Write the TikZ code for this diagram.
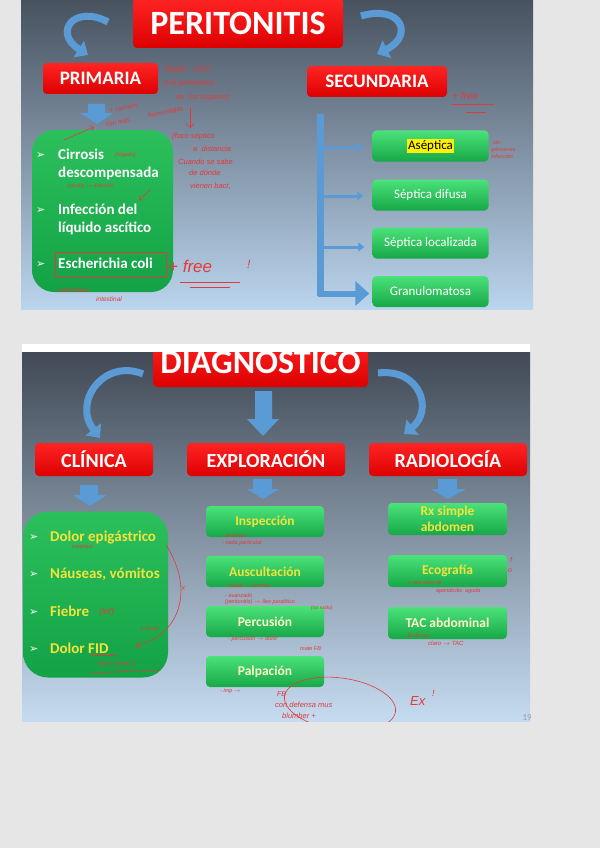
\documentclass[tikz,border=0pt]{standalone}
\usepackage{fontspec}
\setmainfont{Carlito}
\newfontfamily\dejavu{DejaVu Sans}
\newfontfamily\hand{Liberation Sans}
\usetikzlibrary{arrows.meta,shapes.geometric}
\definecolor{pagebg}{HTML}{E6E6E6}
\definecolor{sltop}{HTML}{48525F}
\definecolor{slmid}{HTML}{8A9DB3}
\definecolor{slbot}{HTML}{BBD5EE}
\definecolor{redtop}{HTML}{FF2424}
\definecolor{redbot}{HTML}{DD0000}
\definecolor{grtop}{HTML}{4BE27A}
\definecolor{grbot}{HTML}{17A847}
\definecolor{bigtop}{HTML}{2CC05C}
\definecolor{bigbot}{HTML}{13A246}
\definecolor{arrowblue}{HTML}{5B9BD5}
\definecolor{txtyel}{HTML}{F2E33C}
\definecolor{paleyel}{HTML}{FFF7C8}
\definecolor{ink}{HTML}{E23A3A}
\tikzset{
  redbox/.style={rounded corners=4pt, top color=redtop, bottom color=redbot, text=white, inner sep=0pt,
    font=\bfseries\fontsize{19}{19}\selectfont},
  bigtitle/.style={redbox, font=\bfseries\fontsize{34}{34}\selectfont},
  greenbox/.style={rounded corners=4pt, top color=grtop, bottom color=grbot, inner sep=0pt,
    minimum width=116pt, minimum height=31pt},
  sbox/.style={greenbox, text=white, font=\fontsize{13}{13}\selectfont},
  ybox/.style={greenbox, text=txtyel, font=\bfseries\fontsize{13.5}{16}\selectfont, align=center},
  pbox/.style={ybox, text=paleyel},
  bigbox/.style={top color=bigtop, bottom color=bigbot, inner sep=0pt},
  item/.style={anchor=base west, inner sep=0pt, text=white, font=\bfseries\fontsize{15}{15}\selectfont},
  yitem/.style={item, text=txtyel},
  bul/.style={anchor=base west, inner sep=0pt, text=white, font=\dejavu\fontsize{11}{11}\selectfont},
  curvarrow/.style={draw=arrowblue, line width=7pt, -{Triangle[length=11pt,width=19pt]}},
  blockarrow/.style={fill=arrowblue, draw=none},
  note/.style={text=ink, anchor=base west, inner sep=0pt, font=\hand\itshape\fontsize{6.5}{7}\selectfont},
  inkline/.style={draw=ink, line width=0.6pt},
}
\begin{document}
\begin{tikzpicture}[x=1pt,y=-1pt]
\useasboundingbox (0,0) rectangle (600,848);
\fill[pagebg] (0,0) rectangle (600,848);

%================ SLIDE 1 =================
\begin{scope}
\clip (21,0) rectangle (533,309);
\shade[top color=sltop, middle color=slmid, bottom color=slbot] (21,0) rectangle (533,309);

\node[bigtitle, minimum width=210pt, minimum height=50pt] (perit) at (238,23) {PERITONITIS};
\node[redbox, minimum width=115pt, minimum height=31pt] (prim) at (100.5,78.5) {PRIMARIA};
\node[redbox, minimum width=140pt, minimum height=31pt] (secu) at (377,81.5) {SECUNDARIA};

\coordinate (c1a) at (108,22); \coordinate (c1b) at (88,55);
\draw[curvarrow] (c1a) .. controls (75,4) and (52,32) .. (c1b);
\coordinate (c2a) at (361,16); \coordinate (c2b) at (377,54);
\draw[curvarrow] (c2a) .. controls (402,4) and (414,36) .. (c2b);

% block arrow under PRIMARIA
\fill[blockarrow] (88,104) -- (105,104) -- (105,113) -- (113,113) -- (97,124) -- (80,113) -- (88,113) -- cycle;

% big green box
\node[bigbox, rounded corners=22pt, minimum width=141pt, minimum height=162pt] (pbig) at (102.5,211) {};
\node[bul] (b1) at (36,158) {➢};
\node[item] (t1) at (58,159) {Cirrosis};
\node[item] (t1b) at (58,177) {descompensada};
\node[bul] (b2) at (36,213) {➢};
\node[item] (t2) at (58,214) {Infección del};
\node[item] (t2b) at (58,232) {líquido ascítico};
\node[bul] (b3) at (36,267) {➢};
\node[item] (t3) at (58,268) {Escherichia coli};

% right column
\node[sbox] (asep) at (430.5,146) {};
\node[fill=yellow, text=black, inner sep=1.2pt, font=\fontsize{13}{13}\selectfont] (aseptxt) at (asep.center) {Aséptica};
\node[sbox] (difu) at (430.5,195) {Séptica difusa};
\node[sbox] (loca) at (430.5,243) {Séptica localizada};
\node[sbox] (gran) at (430.5,291.5) {Granulomatosa};

\coordinate (trtop) at (320.5,114);
\coordinate (trbot) at (320.5,296);
\draw[draw=arrowblue, line width=6.5pt] (trtop) -- (trbot);
\coordinate (tr1) at (320,147);
\coordinate (tr2) at (320,196);
\coordinate (tr3) at (320,247);
\coordinate (tr4) at (318,293.5);
\draw[draw=arrowblue, line width=3pt, -{Triangle[length=6pt,width=9pt]}] (tr1) -- ([xshift=-9pt]asep.west|-tr1);
\draw[draw=arrowblue, line width=3pt, -{Triangle[length=6pt,width=9pt]}] (tr2) -- ([xshift=-9pt]difu.west|-tr2);
\draw[draw=arrowblue, line width=3pt, -{Triangle[length=6pt,width=9pt]}] (tr3) -- ([xshift=-8pt]loca.west|-tr3);
\draw[draw=arrowblue, line width=6pt, -{Triangle[length=14pt,width=24pt]}] (tr4) -- ([xshift=-3pt]gran.west|-tr4);

% handwritten notes slide 1
\node[note, font=\hand\itshape\fontsize{8}{8}\selectfont] (n1) at (165,72) {llegan\quad bact};
\node[note, font=\hand\itshape\fontsize{7.5}{8}\selectfont] (n2) at (164,86) {(vía perforados};
\node[note, font=\hand\itshape\fontsize{7.5}{8}\selectfont] (n3) at (176,100) {de\ \ los órganos)};
\coordinate (na1) at (190,108); \coordinate (na2) at (190,128);
\draw[inkline, -{Straight Barb[length=4pt]}] (na1) -- (na2);
\node[note, rotate=12] (n4) at (110,113) {+ varones};
\node[note, rotate=12] (n5) at (106,127) {con más};
\node[note, rotate=12] (n5b) at (148,118) {hemorragias};
\coordinate (na3) at (64,140); \coordinate (na4) at (94,127);
\draw[inkline, -{Straight Barb[length=3pt]}] (na3) -- (na4);
\node[note, font=\hand\itshape\fontsize{7.5}{8}\selectfont] (n6) at (172,139) {(foco séptico};
\node[note, font=\hand\itshape\fontsize{7.5}{8}\selectfont] (n7) at (193,151) {a\ \ distancia};
\node[note, font=\hand\itshape\fontsize{7.5}{8}\selectfont] (n8) at (178,164) {Cuando se sabe};
\node[note, font=\hand\itshape\fontsize{7.5}{8}\selectfont] (n9) at (189,175) {de dónde};
\node[note, font=\hand\itshape\fontsize{7.5}{8}\selectfont] (n10) at (190,188) {vienen bact,};
\node[note, font=\hand\itshape\fontsize{5.5}{6}\selectfont] (n11) at (115,157) {(hígado)};
\node[note, font=\hand\itshape\fontsize{5}{6}\selectfont] (n12) at (67,187.5) {(ascitis) $\to$ infección};
\coordinate (na5) at (150,190); \coordinate (na6) at (139,200);
\draw[inkline, -{Straight Barb[length=3pt]}] (na5) -- (na6);
\node[draw=ink, line width=0.6pt, inner sep=0pt, minimum width=111pt, minimum height=25pt] (ecbox) at (110.5,264.5) {};
\node[note, font=\hand\itshape\fontsize{17}{17}\selectfont] (n13) at (168,272) {+ free};
\node[note, font=\hand\itshape\fontsize{12}{12}\selectfont] (n14) at (247,268) {!};
\coordinate (u1a) at (180,282); \coordinate (u1b) at (240,282);
\coordinate (u2a) at (190,287); \coordinate (u2b) at (230,287);
\draw[inkline] (u1a) -- (u1b);
\draw[inkline] (u2a) -- (u2b);
\node[note] (n15) at (58,292) {enterobact};
\node[note] (n16) at (96,301) {intestinal};
\node[note, font=\hand\itshape\fontsize{10}{10}\selectfont] (n17) at (452,100) {+ free};
\coordinate (u3a) at (452,104); \coordinate (u3b) at (494,104);
\coordinate (u4a) at (466,112); \coordinate (u4b) at (486,112);
\draw[inkline] (u3a) -- (u3b);
\draw[inkline] (u4a) -- (u4b);
\node[note, font=\hand\itshape\fontsize{5.5}{6}\selectfont] (n18) at (493,144) {sin};
\node[note, font=\hand\itshape\fontsize{5.5}{6}\selectfont] (n19) at (491,151) {gérmenes};
\node[note, font=\hand\itshape\fontsize{5.5}{6}\selectfont] (n20) at (491,158) {infección};
\end{scope}

%================ SLIDE 2 =================
\fill[white] (22,344) rectangle (530,352);
\begin{scope}
\clip (22,352) rectangle (530,721);
\shade[top color=sltop!90!black, middle color=slmid, bottom color=slbot!85!white] (22,352) rectangle (530,721);

\node[bigtitle, minimum width=215pt, minimum height=50pt] (diag) at (260.5,362) {DIAGNOSTICO};
\node[redbox, font=\bfseries\fontsize{20}{20}\selectfont, minimum width=118pt, minimum height=33pt] (clin) at (94,459.5) {CLÍNICA};
\node[redbox, font=\bfseries\fontsize{20}{20}\selectfont, minimum width=158pt, minimum height=33pt] (expl) at (266,459.5) {EXPLORACIÓN};
\node[redbox, font=\bfseries\fontsize{20}{20}\selectfont, minimum width=158pt, minimum height=33pt] (radi) at (448,459.5) {RADIOLOGÍA};

\coordinate (d1a) at (143,374); \coordinate (d1b) at (100,438);
\draw[curvarrow] (d1a) .. controls (104,358) and (72,402) .. (d1b);
\coordinate (d2a) at (378,373); \coordinate (d2b) at (404,434);
\draw[curvarrow] (d2a) .. controls (420,368) and (434,410) .. (d2b);

% block arrows
\fill[blockarrow] (255,391) -- (272,391) -- (272,419) -- (279,419) -- (263,436) -- (247,419) -- (255,419) -- cycle;
\fill[blockarrow] (80,485) -- (98,485) -- (98,495) -- (107,495) -- (90,506) -- (73,495) -- (80,495) -- cycle;
\fill[blockarrow] (253,479) -- (272,479) -- (272,489) -- (279,489) -- (263,499) -- (247,489) -- (253,489) -- cycle;
\fill[blockarrow] (438,479) -- (457,479) -- (457,489) -- (466,489) -- (448,499) -- (431,489) -- (438,489) -- cycle;

% clinical box
\node[bigbox, rounded corners=25pt, minimum width=145pt, minimum height=166pt] (cbig) at (95.5,594.5) {};
\node[bul] (c1) at (29,540) {➢};
\node[yitem] (ct1) at (50,541) {Dolor epigástrico};
\node[bul] (c2) at (29,577) {➢};
\node[yitem] (ct2) at (50,578) {Náuseas, vómitos};
\node[bul] (c3) at (29,615) {➢};
\node[yitem] (ct3) at (50,616) {Fiebre};
\node[bul] (c4) at (29,652) {➢};
\node[yitem] (ct4) at (50,653) {Dolor FID};

% exploration
\node[ybox, minimum width=118pt] (insp) at (265,521.5) {Inspección};
\node[ybox, minimum width=118pt] (ausc) at (265,571.5) {Auscultación};
\node[pbox, minimum width=118pt] (perc) at (265,621.5) {Percusión};
\node[pbox, minimum width=118pt] (palp) at (265,671.5) {Palpación};

% radiology
\node[ybox, minimum width=119pt, minimum height=32pt] (rx) at (447.5,519) {Rx simple\\abdomen};
\node[ybox, minimum width=119pt, minimum height=32pt] (eco) at (447.5,571) {Ecografía};
\node[pbox, minimum width=119pt, minimum height=32pt] (tac) at (447.5,623) {TAC abdominal};

\node[anchor=base east, inner sep=0pt, text=black!40, font=\fontsize{9}{9}\selectfont] (pg) at (532,720) {19};

% handwritten notes slide 2
\node[note, font=\hand\itshape\fontsize{5.5}{6}\selectfont] (m1) at (72,548) {continuo};
\node[note, font=\hand\itshape\fontsize{8.5}{9}\selectfont] (m2) at (99,614) {(inf)};
\coordinate (ma1) at (166,545); \coordinate (ma2) at (136,646);
\draw[inkline, -{Straight Barb[length=4pt]}] (ma1) .. controls (195,590) and (180,635) .. (ma2);
\node[note, font=\hand\itshape\fontsize{5.5}{6}\selectfont] (m3) at (140,630) {a veces};
\node[note, font=\hand\itshape\fontsize{6}{6}\selectfont] (m4) at (181,590) {X};
\coordinate (ul1) at (90,655); \coordinate (ul2) at (116,655);
\draw[inkline] (ul1) -- (ul2);
\node[note, font=\hand\itshape\fontsize{5.5}{6}\selectfont] (m5) at (98,665) {típica\ \ ilación D};
\coordinate (ul3) at (90,673); \coordinate (ul4) at (160,670);
\draw[inkline] (ul3) -- (ul4);

\node[note, font=\hand\itshape\fontsize{5.5}{6}\selectfont] (m6) at (222,537) {- doloroso};
\node[note, font=\hand\itshape\fontsize{5.5}{6}\selectfont] (m7) at (222,544) {- nada particular};
\node[note, font=\hand\itshape\fontsize{5.5}{6}\selectfont] (m8) at (225,587) {- inicial $\to$ normal};
\node[note, font=\hand\itshape\fontsize{5.5}{6}\selectfont] (m9) at (225,597) {- avanzado};
\node[note, font=\hand\itshape\fontsize{5.5}{6}\selectfont] (m10) at (225,603) {(peritonitis)\ $\to$ íleo paralítico};
\node[note, font=\hand\itshape\fontsize{5}{6}\selectfont] (m11) at (311,609) {(no ruido)};
\node[note, font=\hand\itshape\fontsize{5.5}{6}\selectfont] (m12) at (228,640) {- percusión $\to$ dolor};
\node[note, font=\hand\itshape\fontsize{5.5}{6}\selectfont] (m13) at (300,650) {mate FB};
\node[note, font=\hand\itshape\fontsize{5.5}{6}\selectfont] (m14) at (220,692) {- imp $\to$};
\node[draw=ink, line width=0.6pt, ellipse, minimum width=112pt, minimum height=52pt, inner sep=0pt, rotate=-8] (circ) at (340,704) {};
\node[note, font=\hand\itshape\fontsize{7}{7}\selectfont] (m15) at (277,696) {FB};
\node[note, font=\hand\itshape\fontsize{7.5}{8}\selectfont] (m16) at (275,707) {con defensa mus};
\node[note, font=\hand\itshape\fontsize{7.5}{8}\selectfont] (m17) at (282,718) {blumber +};
\node[note, font=\hand\itshape\fontsize{13}{13}\selectfont] (m18) at (410,705) {Ex};
\node[note, font=\hand\itshape\fontsize{9}{9}\selectfont] (m19) at (432,696) {!};
\node[note, font=\hand\itshape\fontsize{5.5}{6}\selectfont] (m20) at (408,584) {+ usa para de};
\node[note, font=\hand\itshape\fontsize{5.5}{6}\selectfont] (m21) at (436,592) {apendicitis\ \ aguda};
\node[note, font=\hand\itshape\fontsize{7}{7}\selectfont] (m22) at (510,562) {f};
\node[note, font=\hand\itshape\fontsize{7}{7}\selectfont] (m23) at (508,572) {o};
\node[note, font=\hand\itshape\fontsize{6}{6}\selectfont] (m24) at (407,637) {Si dx no};
\node[note, font=\hand\itshape\fontsize{6}{6}\selectfont] (m25) at (428,645) {claro $\to$ TAC};
\end{scope}
\end{tikzpicture}
\end{document}
